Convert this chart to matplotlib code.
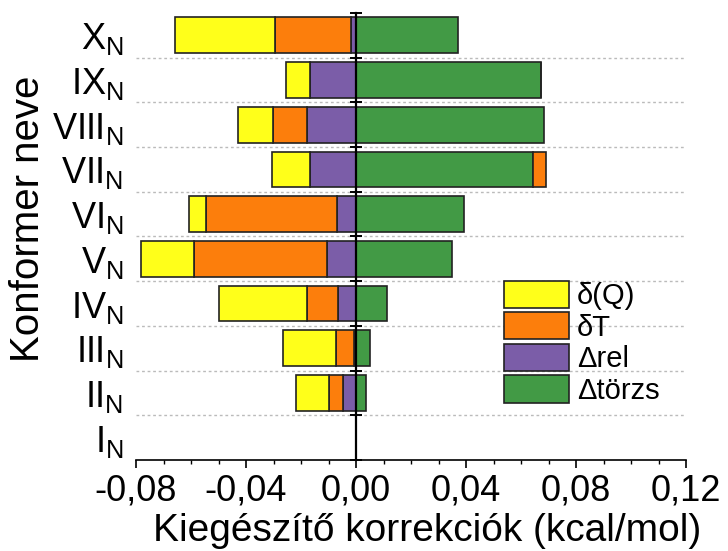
import matplotlib
matplotlib.use("Agg")
import matplotlib.pyplot as plt
import numpy as np
from matplotlib.ticker import MultipleLocator, FuncFormatter

plt.rcParams['font.family'] = ['Liberation Sans', 'DejaVu Sans']
plt.rcParams['mathtext.fontset'] = 'custom'
plt.rcParams['mathtext.rm'] = 'Liberation Sans'
plt.rcParams['mathtext.it'] = 'Liberation Sans'

categories = ['I', 'II', 'III', 'IV', 'V', 'VI', 'VII', 'VIII', 'IX', 'X']
d_Q = [0.0, -0.0120, -0.0191, -0.0319, -0.0193, -0.0059, -0.0140, -0.0125, -0.0090, -0.0363]
d_T = [0.0, -0.0049, -0.0066, -0.0115, -0.0485, -0.0479, 0.0046, -0.0126, 0.0, -0.0276]
D_rel = [0.0, -0.0048, -0.0007, -0.0064, -0.0104, -0.0068, -0.0167, -0.0177, -0.0166, -0.0019]
D_torzs = [0.0, 0.0036, 0.0051, 0.0112, 0.0349, 0.0393, 0.0645, 0.0685, 0.0673, 0.0371]

series = [
    ('Δtörzs', D_torzs, '#429A45'),
    ('Δrel', D_rel, '#7B5DA8'),
    ('δT', d_T, '#FC7E0C'),
    ('δ(Q)', d_Q, '#FFFF1A'),
]
legend_order = ['δ(Q)', 'δT', 'Δrel', 'Δtörzs']

fig = plt.figure(figsize=(7.28, 5.51), dpi=100)
ax = fig.add_axes([136/728, 1-460/551, 550/728, 447/551])

y = np.arange(len(categories))
pos = np.zeros(len(categories))
neg = np.zeros(len(categories))
handles = {}
for name, vals, col in series:
    v = np.array(vals)
    left = np.where(v >= 0, pos, neg)
    b = ax.barh(y, v, left=left, height=0.8, color=col, edgecolor='#222222',
                linewidth=1.2, label=name, zorder=3)
    handles[name] = b
    pos = pos + np.where(v >= 0, v, 0)
    neg = neg + np.where(v < 0, v, 0)

ax.set_xlim(-0.08, 0.12)
ax.set_ylim(-0.5, len(categories) - 0.5)

# dotted separators
for b in np.arange(0.5, len(categories) - 1, 1.0):
    ax.axhline(b, color='#BBBBBB', lw=1.0, ls=(0, (2, 2)), zorder=1)

ax.spines['top'].set_visible(False)
ax.spines['left'].set_visible(False)
ax.spines['right'].set_position(('data', 0))
ax.spines['right'].set_linewidth(1.6)
ax.spines['right'].set_zorder(5)
ax.spines['bottom'].set_linewidth(1.2)

ax.set_yticks(y)
ax.set_yticklabels([c + r'$_\mathrm{N}$' for c in categories], fontsize=26)
ax.set_yticks(np.arange(-0.5, len(categories), 1.0), minor=True)
ax.tick_params(axis='y', which='major', length=0, pad=9, left=True, right=False)
ax.tick_params(axis='y', which='minor', left=False, right=True, direction='inout',
               length=9, width=1.4)

ax.xaxis.set_major_locator(MultipleLocator(0.04))
ax.xaxis.set_minor_locator(MultipleLocator(0.01))
ax.xaxis.set_major_formatter(FuncFormatter(lambda v, p: f'{v:.2f}'.replace('.', ',').replace('-0,00', '0,00')))
ax.tick_params(axis='x', which='major', length=6, width=1.2, labelsize=26, pad=3.5)
ax.tick_params(axis='x', which='minor', length=3, width=1.0)

fig.text(28/728, 1-219/551, 'Konformer neve', rotation=90, ha='center', va='center', fontsize=29)
fig.text(427/728, 1-541/551, 'Kiegészítő korrekciók (kcal/mol)', ha='center', va='baseline', fontsize=28)

leg = ax.legend([handles[n] for n in legend_order], legend_order,
                loc='upper left', bbox_to_anchor=(504/728, 1-280.5/551),
                bbox_transform=fig.transFigure, frameon=False, fontsize=21,
                handlelength=2.23, handleheight=1.06, labelspacing=0.07,
                handletextpad=0.27, borderpad=0, borderaxespad=0)

fig.savefig('out.png', dpi=100)
